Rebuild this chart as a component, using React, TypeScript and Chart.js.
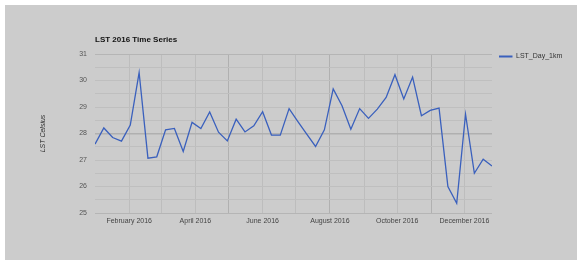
import React, { useEffect, useRef } from 'react';
import { Chart, registerables } from 'chart.js';

Chart.register(...registerables);

const chartTitle = 'LST 2016 Time Series';
const seriesName = 'LST_Day_1km';
const yAxisTitle = 'LST Celsius';

const dates = [
  '2016-01-01', '2016-01-09', '2016-01-17', '2016-01-25', '2016-02-02', '2016-02-10',
  '2016-02-18', '2016-02-26', '2016-03-05', '2016-03-13', '2016-03-21', '2016-03-29',
  '2016-04-06', '2016-04-14', '2016-04-22', '2016-04-30', '2016-05-08', '2016-05-16',
  '2016-05-24', '2016-06-01', '2016-06-09', '2016-06-17', '2016-06-25', '2016-07-03',
  '2016-07-11', '2016-07-19', '2016-07-27', '2016-08-04', '2016-08-12', '2016-08-20',
  '2016-08-28', '2016-09-05', '2016-09-13', '2016-09-21', '2016-09-29', '2016-10-07',
  '2016-10-15', '2016-10-23', '2016-10-31', '2016-11-08', '2016-11-16', '2016-11-24',
  '2016-12-02', '2016-12-10', '2016-12-18', '2016-12-26',
];

const lstValues = [
  27.60, 28.21, 27.85, 27.71, 28.32, 30.30,
  27.07, 27.12, 28.14, 28.19, 27.32, 28.42,
  28.19, 28.81, 28.05, 27.72, 28.54, 28.06,
  28.29, 28.82, 27.94, 27.94, 28.94, 28.45,
  27.98, 27.51, 28.14, 29.68, 29.05, 28.16,
  28.94, 28.57, 28.92, 29.36, 30.22, 29.30,
  30.13, 28.67, 28.87, 28.96, 26.00, 25.37,
  28.73, 26.50, 27.03, 26.77,
];

const monthTickDates = [
  '2016-02-01', '2016-03-01', '2016-04-01', '2016-05-01', '2016-06-01', '2016-07-01',
  '2016-08-01', '2016-09-01', '2016-10-01', '2016-11-01', '2016-12-01',
];
const monthTickLabels = [
  'February 2016', '', 'April 2016', '', 'June 2016', '',
  'August 2016', '', 'October 2016', '', 'December 2016',
];
const strongMonthTicks = ['2016-05-01', '2016-08-01', '2016-11-01'];

const yMin = 25;
const yMax = 31;
const yStep = 0.5;
const yStrongLine = 28;

const dayOf = (s: string) =>
  (Date.parse(s + 'T00:00:00Z') - Date.parse('2016-01-01T00:00:00Z')) / 86400000;

const FONT = '"Liberation Sans", Arial, sans-serif';
const LINE_COLOR = '#3a60bd';

export default function App() {
  const canvasRef = useRef<HTMLCanvasElement | null>(null);

  useEffect(() => {
    document.body.style.margin = '0';
    const canvas = canvasRef.current;
    if (!canvas) return;

    const points = dates.map((d, i) => ({ x: dayOf(d), y: lstValues[i] }));
    const tickValues = monthTickDates.map(dayOf);
    const strongValues = new Set(strongMonthTicks.map(dayOf));

    const overlay = {
      id: 'overlay',
      afterDraw(chart: any) {
        const ctx = chart.ctx;
        const area = chart.chartArea;
        ctx.save();
        // title
        ctx.fillStyle = '#111';
        ctx.font = `bold 8px ${FONT}`;
        ctx.textAlign = 'left';
        ctx.textBaseline = 'middle';
        ctx.fillText(chartTitle, area.left, 34.5);
        // legend
        const lx = area.right + 7;
        const ly = area.top + 2.5;
        ctx.strokeStyle = LINE_COLOR;
        ctx.lineWidth = 2;
        ctx.beginPath();
        ctx.moveTo(lx, ly);
        ctx.lineTo(lx + 13.5, ly);
        ctx.stroke();
        ctx.fillStyle = '#333';
        ctx.font = `7px ${FONT}`;
        ctx.fillText(seriesName, lx + 17, ly);
        // y-axis title
        ctx.translate(38.5, (area.top + area.bottom) / 2);
        ctx.rotate(-Math.PI / 2);
        ctx.textAlign = 'center';
        ctx.font = `italic 7px ${FONT}`;
        ctx.fillStyle = '#333';
        ctx.fillText(yAxisTitle, 0, 0);
        ctx.restore();
      },
    };

    const chart = new Chart(canvas, {
      type: 'line',
      data: {
        datasets: [
          {
            label: seriesName,
            data: points,
            borderColor: LINE_COLOR,
            backgroundColor: LINE_COLOR,
            borderWidth: 1.3,
            pointRadius: 0,
            tension: 0,
            fill: false,
          },
        ],
      },
      options: {
        responsive: false,
        animation: false,
        layout: { padding: { top: 49, right: 85, left: 0, bottom: 0 } },
        plugins: {
          legend: { display: false },
          title: { display: false },
          tooltip: { enabled: false },
        },
        scales: {
          x: {
            type: 'linear',
            min: dayOf(dates[0]),
            max: dayOf(dates[dates.length - 1]),
            afterFit(scale: any) {
              scale.height = 47;
            },
            afterBuildTicks(scale: any) {
              scale.ticks = tickValues.map((v) => ({ value: v }));
            },
            border: { display: false },
            grid: {
              drawTicks: false,
              lineWidth: 1,
              color: (c: any) =>
                c.tick && strongValues.has(c.tick.value) ? '#b0b0b0' : '#bdbdbd',
            },
            ticks: {
              autoSkip: false,
              maxRotation: 0,
              padding: 4,
              color: '#444',
              font: { family: FONT, size: 7 },
              callback: (value: any) => {
                const idx = tickValues.indexOf(Number(value));
                return idx >= 0 ? monthTickLabels[idx] : '';
              },
            },
          },
          y: {
            type: 'linear',
            min: yMin,
            max: yMax,
            afterFit(scale: any) {
              scale.width = 90;
            },
            border: { display: false },
            grid: {
              drawTicks: false,
              color: (c: any) =>
                c.tick && c.tick.value === yStrongLine
                  ? '#b0b0b0'
                  : c.tick && (c.tick.value === yMax || c.tick.value === yMin)
                  ? '#b5b5b5'
                  : '#bfbfbf',
              lineWidth: (c: any) => (c.tick && c.tick.value === yStrongLine ? 1.6 : 1),
            },
            ticks: {
              stepSize: yStep,
              padding: 8,
              color: '#555',
              font: { family: FONT, size: 7 },
              callback: (value: any) =>
                Number.isInteger(Number(value)) ? String(value) : '',
            },
          },
        },
      },
      plugins: [overlay],
    } as any);

    return () => {
      chart.destroy();
    };
  }, []);

  return (
    <div style={{ position: 'relative', width: 577, height: 260, background: '#fff' }}>
      <canvas
        ref={canvasRef}
        width={572}
        height={255}
        style={{
          position: 'absolute',
          left: 5,
          top: 5,
          width: 572,
          height: 255,
          background: '#cccccc',
        }}
      />
    </div>
  );
}
